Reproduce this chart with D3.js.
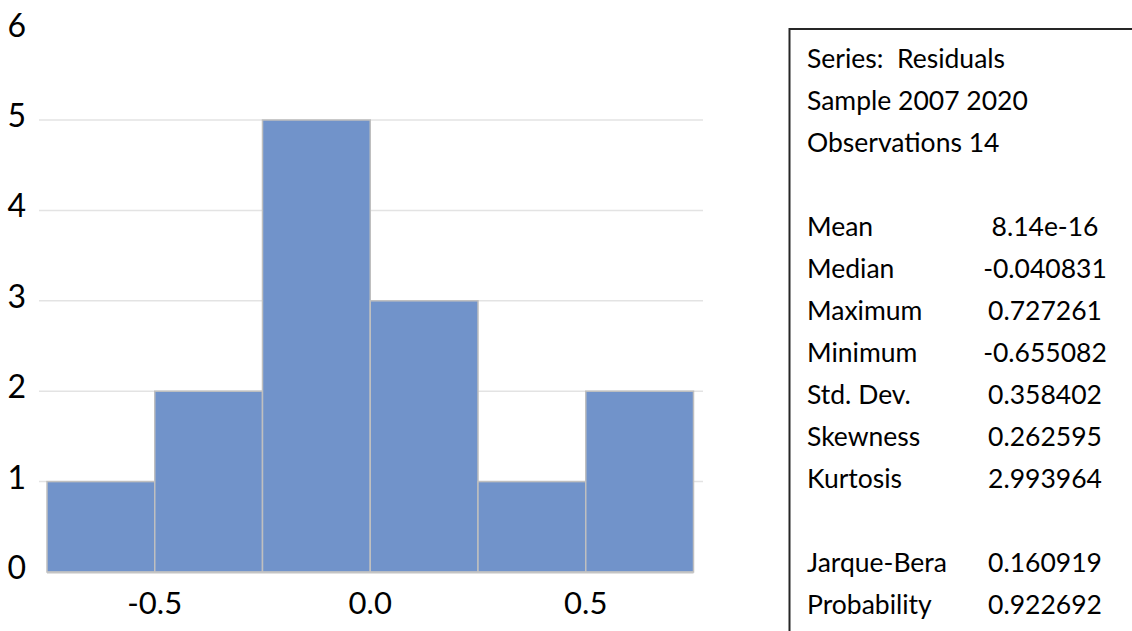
<!DOCTYPE html>
<html>
<head>
<meta charset="utf-8">
<script src="https://cdn.jsdelivr.net/npm/d3@7"></script>
<style>
  body { margin: 0; background: #fff; }
  svg { display: block; }
  text { font-family: Lato, "Open Sans", sans-serif; fill: #000; white-space: pre; }
</style>
</head>
<body>
<script>
// Data
const binStarts = [-0.75, -0.5, -0.25, 0, 0.25, 0.5];
const binWidth = 0.25;
const counts = [1, 2, 5, 3, 1, 2];
const yTicks = [0, 1, 2, 3, 4, 5, 6];
const xTicks = [-0.5, 0, 0.5];

const statsHeader = ['Series:  Residuals', 'Sample 2007 2020', 'Observations 14'];
const statLabels = ['Mean', 'Median', 'Maximum', 'Minimum', 'Std. Dev.', 'Skewness', 'Kurtosis'];
const statValues = ['8.14e-16', '-0.040831', '0.727261', '-0.655082', '0.358402', '0.262595', '2.993964'];
const testLabels = ['Jarque-Bera', 'Probability'];
const testValues = ['0.160919', '0.922692'];

// SVG setup
const width = 1132;
const height = 631;

const svg = d3.select('body')
.append('svg')
.attr('width', width)
.attr('height', height);

// Scales
const xScale = d3.scaleLinear()
.domain([-0.75, 0.75])
.range([47, 693.5]);

const yScale = d3.scaleLinear()
.domain([0, 5])
.range([572, 120]);

// Gridlines (no line at top tick)
svg.selectAll('line.grid')
.data(yTicks.filter(d => d > 0 && d < 6))
.enter()
.append('line')
.attr('class', 'grid')
.attr('x1', 39)
.attr('x2', 703)
.attr('y1', d => yScale(d))
.attr('y2', d => yScale(d))
.attr('stroke', '#e3e3e3')
.attr('stroke-width', 1.5);

// Bars
svg.selectAll('rect.bar')
.data(counts)
.enter()
.append('rect')
.attr('class', 'bar')
.attr('x', (d, i) => xScale(binStarts[i]))
.attr('y', d => yScale(d))
.attr('width', (d, i) => xScale(binStarts[i] + binWidth) - xScale(binStarts[i]))
.attr('height', d => yScale(0) - yScale(d))
.attr('fill', '#7193ca')
.attr('stroke', '#bfbfbf')
.attr('stroke-width', 1.5);

// Baseline
svg.append('line')
.attr('x1', xScale(-0.75))
.attr('x2', xScale(0.75))
.attr('y1', yScale(0) + 0.5)
.attr('y2', yScale(0) + 0.5)
.attr('stroke', '#c4c4c4')
.attr('stroke-width', 2);

// Y tick labels
svg.selectAll('text.ytick')
.data(yTicks)
.enter()
.append('text')
.attr('class', 'ytick')
.text(d => d)
.attr('x', 26)
.attr('y', d => yScale(d) + 7)
.attr('text-anchor', 'end')
.attr('font-size', '32px');

// X tick labels (plain hyphen for minus, like the original)
svg.selectAll('text.xtick')
.data(xTicks)
.enter()
.append('text')
.attr('class', 'xtick')
.text(d => d.toFixed(1))
.attr('x', d => xScale(d))
.attr('y', 614)
.attr('text-anchor', 'middle')
.attr('font-size', '31px');

// Stats box
svg.append('rect')
.attr('x', 789.5)
.attr('y', 29)
.attr('width', 400)
.attr('height', 700)
.attr('fill', 'none')
.attr('stroke', '#262626')
.attr('stroke-width', 2);

const rows = [];
statsHeader.forEach(t => rows.push({ label: t, value: '' }));
rows.push({ label: '', value: '' });
statLabels.forEach((t, i) => rows.push({ label: t, value: statValues[i] }));
rows.push({ label: '', value: '' });
testLabels.forEach((t, i) => rows.push({ label: t, value: testValues[i] }));

const rowY = d3.scaleLinear()
.domain([0, 1])
.range([68, 110]);

svg.selectAll('text.slabel')
.data(rows)
.enter()
.append('text')
.attr('class', 'slabel')
.text(d => d.label)
.attr('x', 807)
.attr('y', (d, i) => rowY(i))
.attr('font-size', '26.5px');

svg.selectAll('text.svalue')
.data(rows)
.enter()
.append('text')
.attr('class', 'svalue')
.text(d => d.value)
.attr('x', 1045)
.attr('y', (d, i) => rowY(i))
.attr('text-anchor', 'middle')
.attr('font-size', '26.5px');
</script>
</body>
</html>
